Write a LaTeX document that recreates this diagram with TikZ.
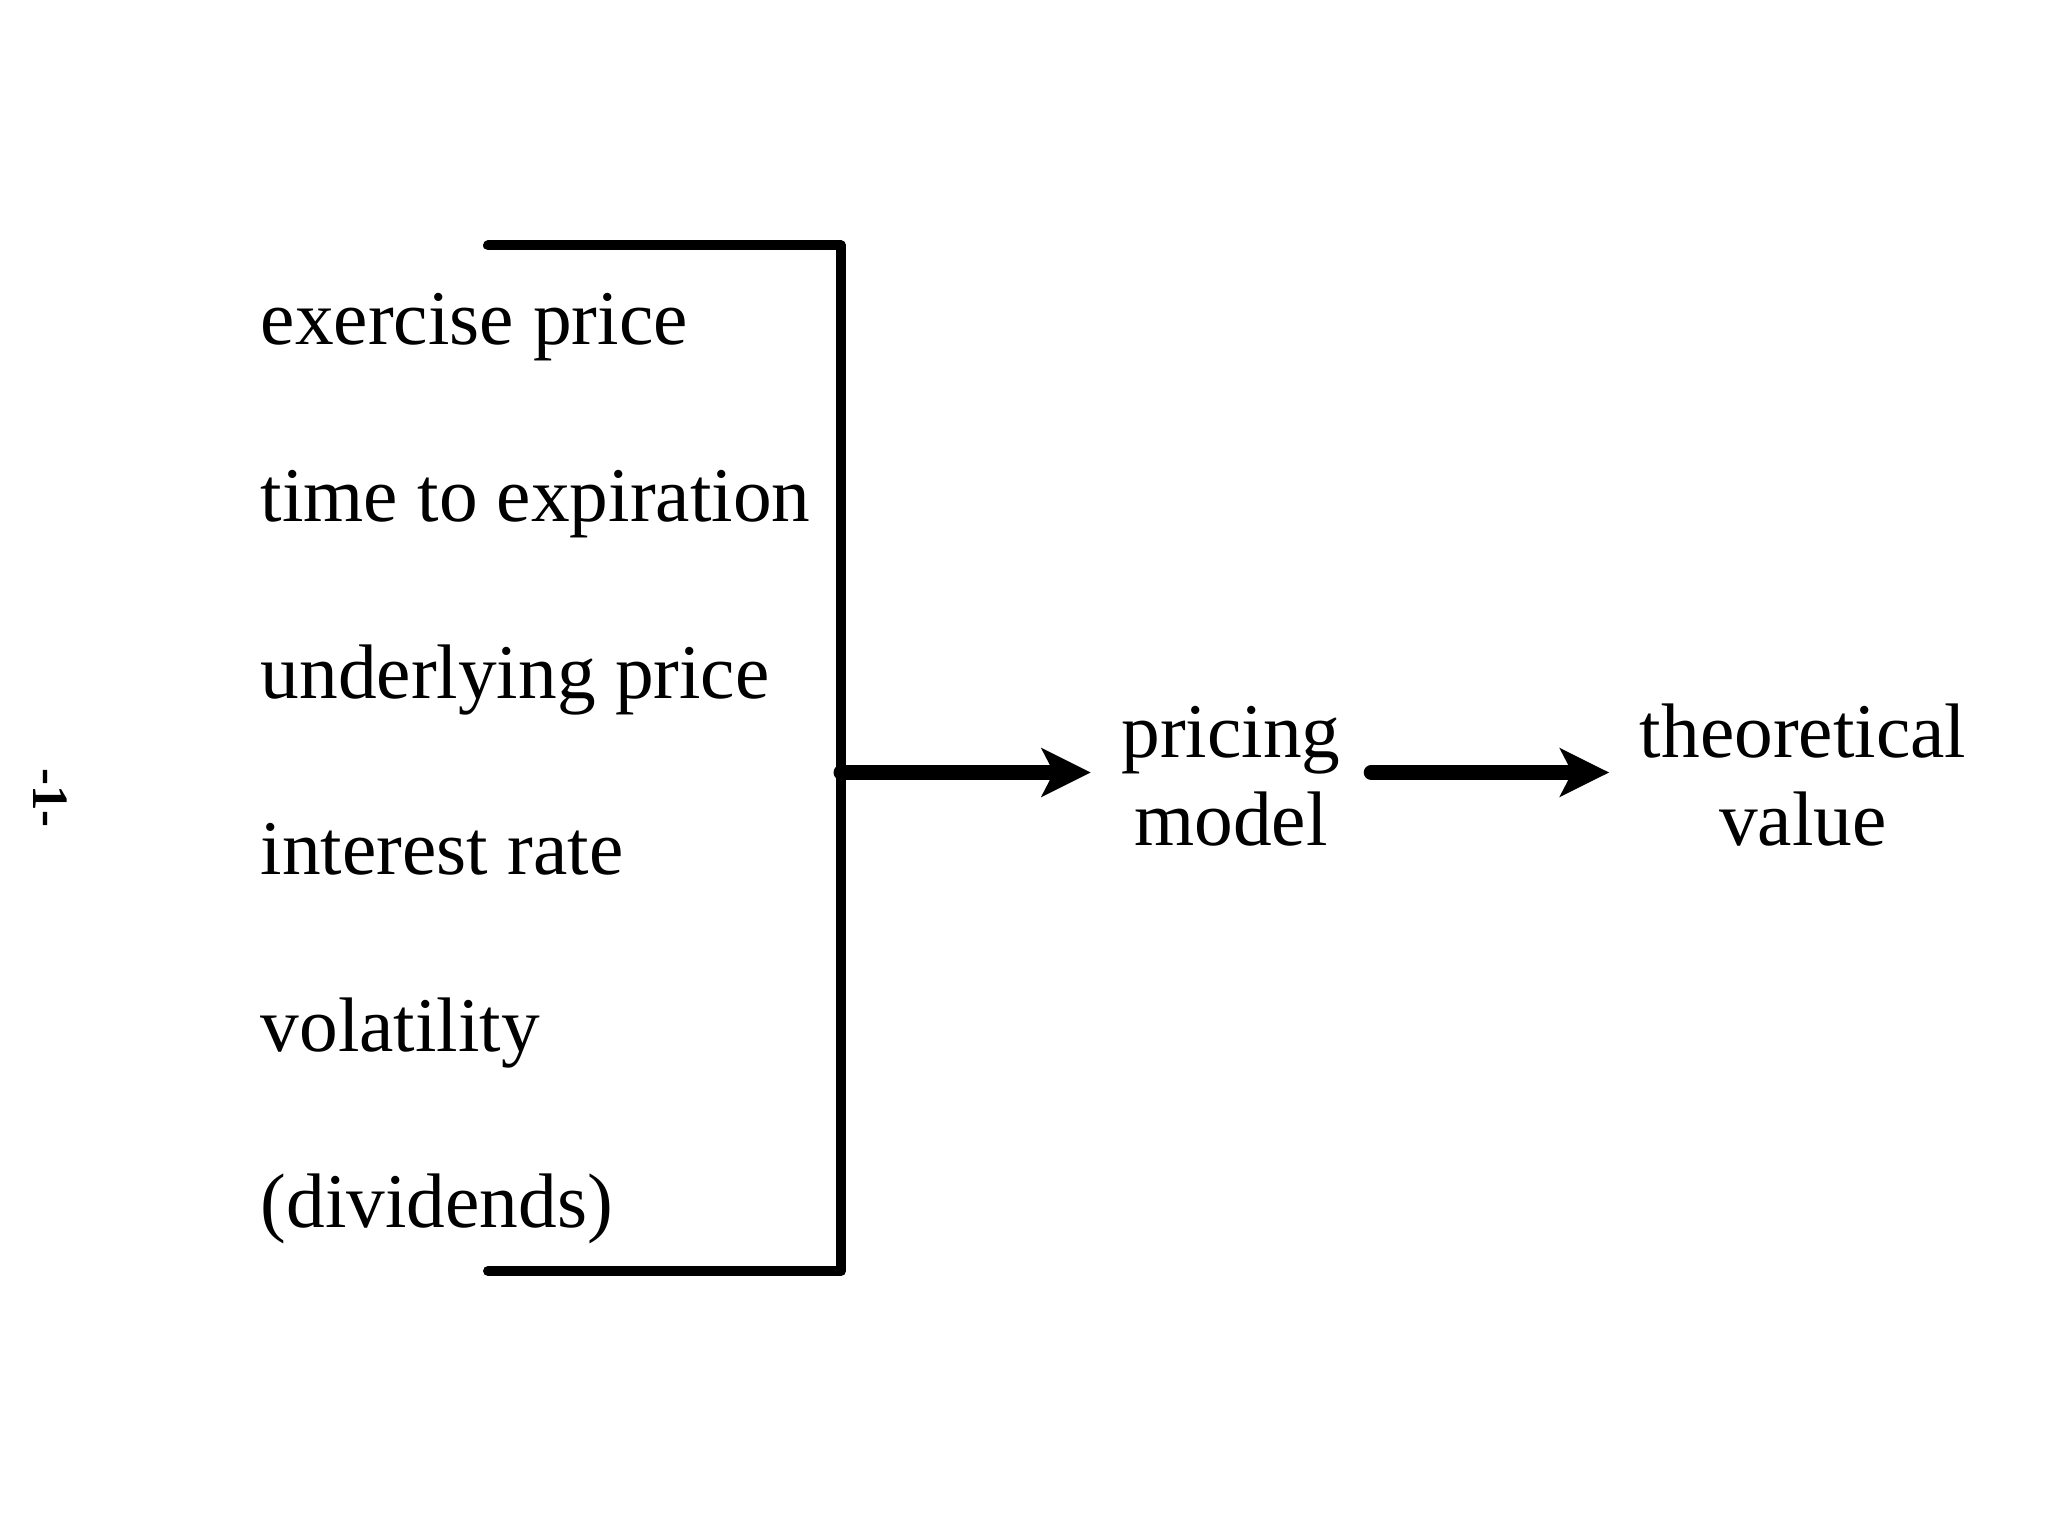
\documentclass[tikz,border=0pt]{standalone}
\usepackage{fontspec}
\setmainfont{Liberation Serif}
\usetikzlibrary{arrows.meta}
\begin{document}
\begin{tikzpicture}[line join=round, line cap=round, >={Stealth[length=4.9mm,width=4.8mm,inset=1.2mm]}]
	\tikzset{every node/.style={font=\fontsize{22}{25}\selectfont}, item/.style={anchor=base west, inner sep=0pt}, stage/.style={align=center, inner xsep=0.3cm}}
	\useasboundingbox (0,0) rectangle (20.48,-15.36);
	\node[rotate=-90, font=\fontsize{14.5}{17}\selectfont\bfseries] (pg) at (0.50,-7.98) {-1-};
	\foreach \txt [count=\i] in {exercise price,time to expiration,underlying price,interest rate,volatility,{(dividends)}}
		\node[item] (in\i) at (2.60,{-3.45-1.765*(\i-1)}) {\txt};
	\coordinate (tl) at (4.88,-2.455); \coordinate (tr) at (8.41,-2.455);
	\coordinate (bl) at (4.88,-12.71); \coordinate (br) at (8.41,-12.71);
	\coordinate (mid) at (8.41,-7.725);
	\draw[line width=0.1cm] (tl)--(tr)--(br)--(bl);
	\node[stage] (pm) at (12.31,-7.76) {pricing\\model};
	\node[stage] (tv) at (18.03,-7.75) {theoretical\\value};
	\draw[->,line width=0.15cm] (mid)--(mid -| pm.west);
	\draw[->,line width=0.15cm] (mid -| pm.east)--(mid -| tv.west);
\end{tikzpicture}
\end{document}
